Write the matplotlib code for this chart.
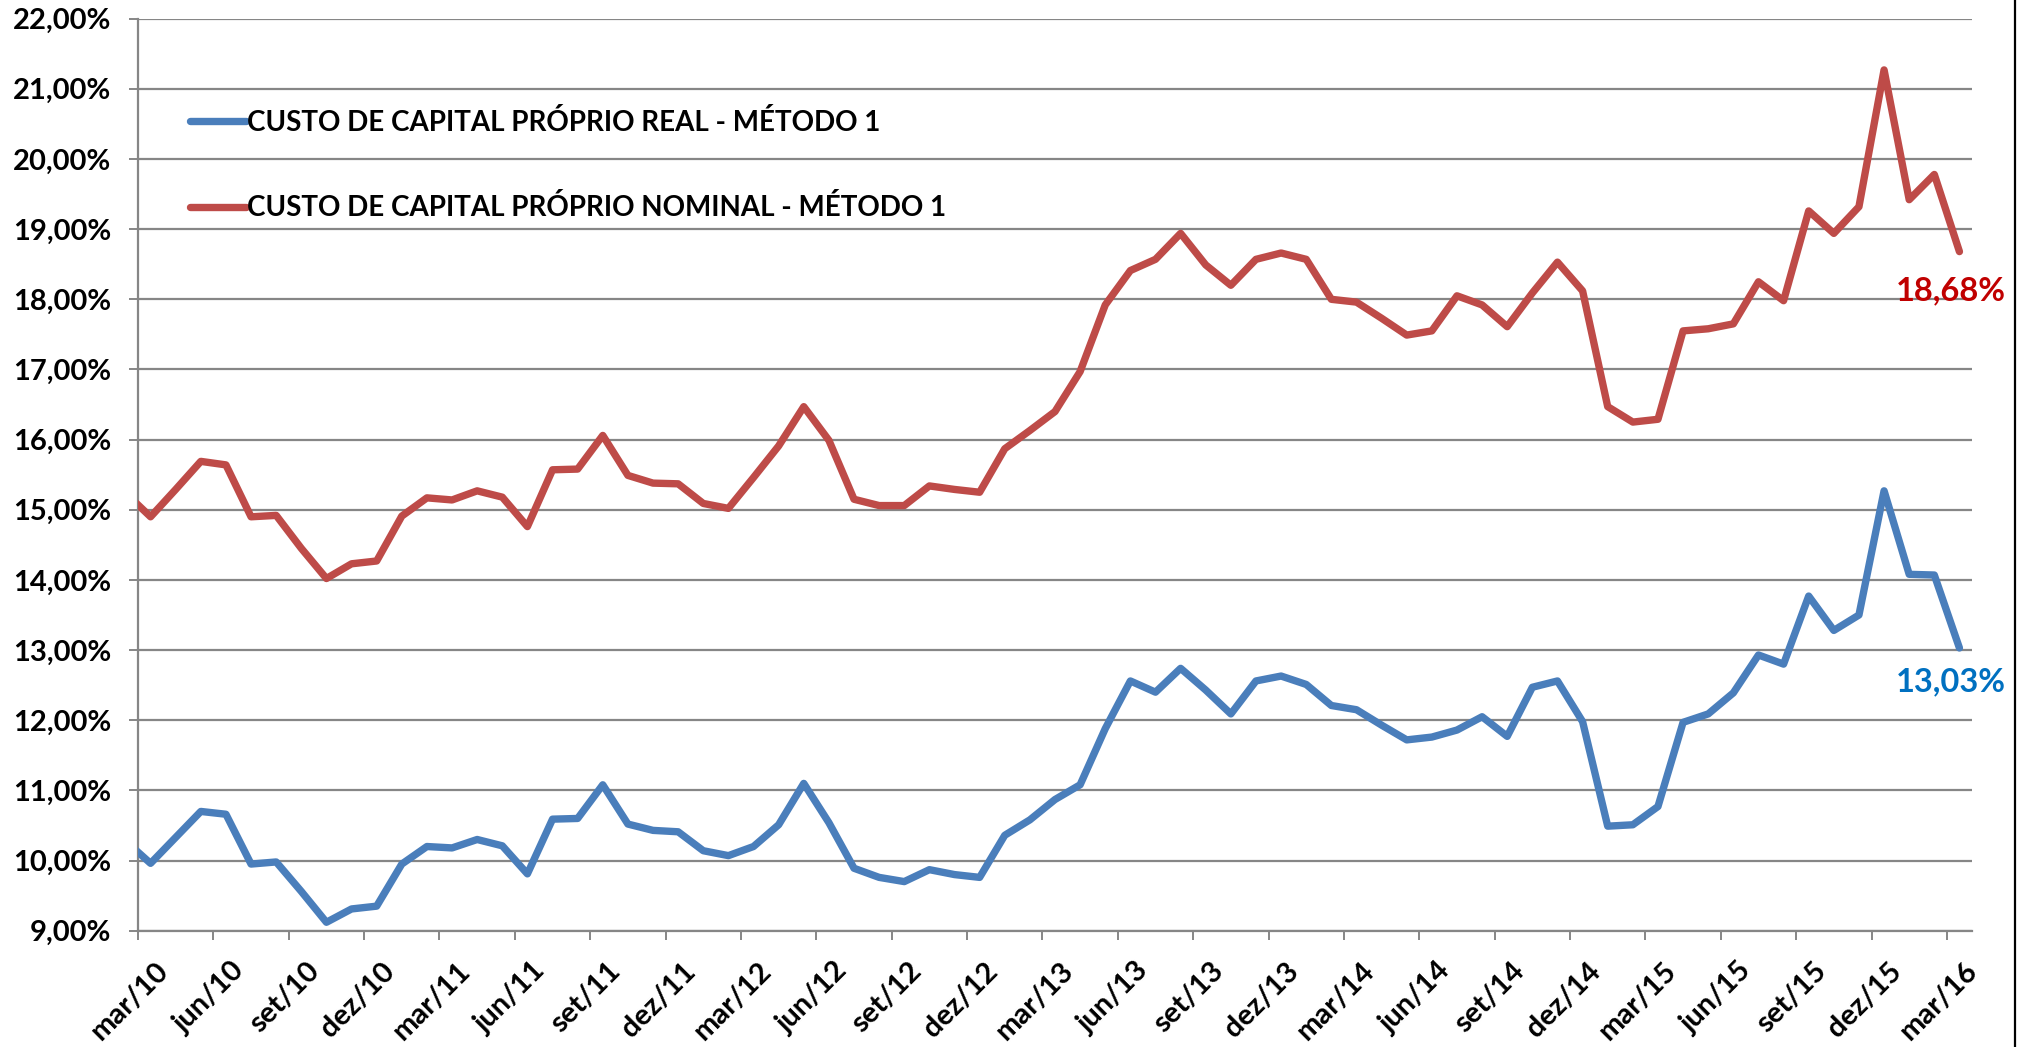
import numpy as np
import matplotlib
matplotlib.use("Agg")
import matplotlib.pyplot as plt
from matplotlib.lines import Line2D
from matplotlib.transforms import ScaledTranslation

plt.rcParams['font.family'] = ['Lato', 'DejaVu Sans']
plt.rcParams['font.weight'] = 'bold'

# ---- data (monthly, fev/10 .. mar/16; the fev/10 point lies left of the axis and is clipped) ----
real = [10.28,
        9.96, 10.33, 10.70, 10.66, 9.95, 9.98, 9.56, 9.12, 9.31, 9.35,
        9.95, 10.20, 10.18, 10.30, 10.21, 9.81, 10.59, 10.60, 11.08, 10.52,
        10.43, 10.41, 10.14, 10.07, 10.20, 10.51, 11.10, 10.54, 9.89, 9.76,
        9.70, 9.87, 9.80, 9.76, 10.36, 10.58, 10.87, 11.08, 11.88, 12.56,
        12.40, 12.74, 12.43, 12.09, 12.56, 12.63, 12.51, 12.21, 12.15, 11.93,
        11.72, 11.76, 11.86, 12.05, 11.77, 12.47, 12.56, 11.98, 10.49, 10.51,
        10.77, 11.97, 12.09, 12.39, 12.93, 12.80, 13.77, 13.28, 13.50, 15.27,
        14.08, 14.07, 13.03]
nominal = [15.24,
           14.90, 15.29, 15.69, 15.64, 14.90, 14.92, 14.45, 14.02, 14.23, 14.27,
           14.91, 15.17, 15.14, 15.27, 15.18, 14.76, 15.57, 15.58, 16.06, 15.49,
           15.38, 15.37, 15.09, 15.02, 15.46, 15.91, 16.47, 15.99, 15.15, 15.06,
           15.06, 15.34, 15.29, 15.25, 15.87, 16.13, 16.40, 16.97, 17.92, 18.41,
           18.57, 18.94, 18.49, 18.20, 18.57, 18.66, 18.57, 18.00, 17.96, 17.73,
           17.49, 17.55, 18.05, 17.92, 17.61, 18.09, 18.53, 18.12, 16.47, 16.25,
           16.29, 17.55, 17.58, 17.65, 18.25, 17.98, 19.26, 18.94, 19.32, 21.27,
           19.42, 19.78, 18.68]
tick_labels = ['mar/10', 'jun/10', 'set/10', 'dez/10', 'mar/11', 'jun/11', 'set/11', 'dez/11',
               'mar/12', 'jun/12', 'set/12', 'dez/12', 'mar/13', 'jun/13', 'set/13', 'dez/13',
               'mar/14', 'jun/14', 'set/14', 'dez/14', 'mar/15', 'jun/15', 'set/15', 'dez/15',
               'mar/16']
series_names = ['CUSTO DE CAPITAL PRÓPRIO REAL - MÉTODO 1',
                'CUSTO DE CAPITAL PRÓPRIO NOMINAL - MÉTODO 1']
y_ticks = [9, 10, 11, 12, 13, 14, 15, 16, 17, 18, 19, 20, 21, 22]

# x positions: months counted from the mar/10 tick, points in the middle of each month
x = np.arange(len(real)) - 1 + 0.5
tick_pos = np.arange(len(tick_labels)) * 3

W, H, DPI = 2028, 1047, 100
fig = plt.figure(figsize=(W / DPI, H / DPI), dpi=DPI)
ax = fig.add_axes([138 / W, 1 - 930.7 / H, (1972 - 138) / W, (930.7 - 18.7) / H])

blue = '#4A7EBB'
red = '#BE4B48'
grid_c = '#868686'

ax.plot(x, real, color=blue, lw=5.3, solid_joinstyle='round', solid_capstyle='round',
        label=series_names[0], zorder=3)
ax.plot(x, nominal, color=red, lw=5.3, solid_joinstyle='round', solid_capstyle='round',
        label=series_names[1], zorder=3)

ax.set_xlim(0, 73)
ax.set_ylim(9, 22)
ax.set_yticks(y_ticks)
ax.set_yticklabels([f"{v:.2f}%".replace('.', ',') for v in y_ticks])
ax.yaxis.grid(True, color=grid_c, lw=1.6)
ax.set_axisbelow(True)

for s in ['top', 'right']:
    ax.spines[s].set_visible(False)
for s in ['left', 'bottom']:
    ax.spines[s].set_color(grid_c)
    ax.spines[s].set_linewidth(1.6)

ax.tick_params(axis='y', length=6.5, width=1.4, color=grid_c, pad=13, labelsize=21)
ax.tick_params(axis='x', length=6.5, width=1.4, color=grid_c, pad=13, labelsize=21)
ax.set_xticks(tick_pos)
ax.set_xticklabels(tick_labels, rotation=45, ha='right', va='top', rotation_mode='anchor')
off = ScaledTranslation(17 / DPI, 0, fig.dpi_scale_trans)
for lab in ax.get_xticklabels():
    lab.set_transform(lab.get_transform() + off)
for lab in ax.get_xticklabels() + ax.get_yticklabels():
    lab.set_fontweight('bold')

# end-point data labels
ax.annotate(f"{nominal[-1]:.2f}%".replace('.', ','), xy=(x[-1], nominal[-1]),
            xytext=(-6, -28), textcoords='offset points', ha='center', va='center',
            color='#C00000', fontsize=23.5, fontweight='bold', annotation_clip=False)
ax.annotate(f"{real[-1]:.2f}%".replace('.', ','), xy=(x[-1], real[-1]),
            xytext=(-6, -24), textcoords='offset points', ha='center', va='center',
            color='#0070C0', fontsize=23.5, fontweight='bold', annotation_clip=False)

leg = ax.legend(loc='upper left', bbox_to_anchor=((190 - 138) / (1972 - 138), (930.7 - 109) / (930.7 - 18.7)),
                frameon=False, fontsize=20, handlelength=2.0, handletextpad=0.05,
                labelspacing=2.1, borderaxespad=0, borderpad=0)
for t in leg.get_texts():
    t.set_fontweight('bold')

# right border line of the original picture
fig.add_artist(Line2D([2015 / W, 2015 / W], [0, 1], color='black', lw=1.6))

fig.savefig('out.png', dpi=DPI, facecolor='white')
